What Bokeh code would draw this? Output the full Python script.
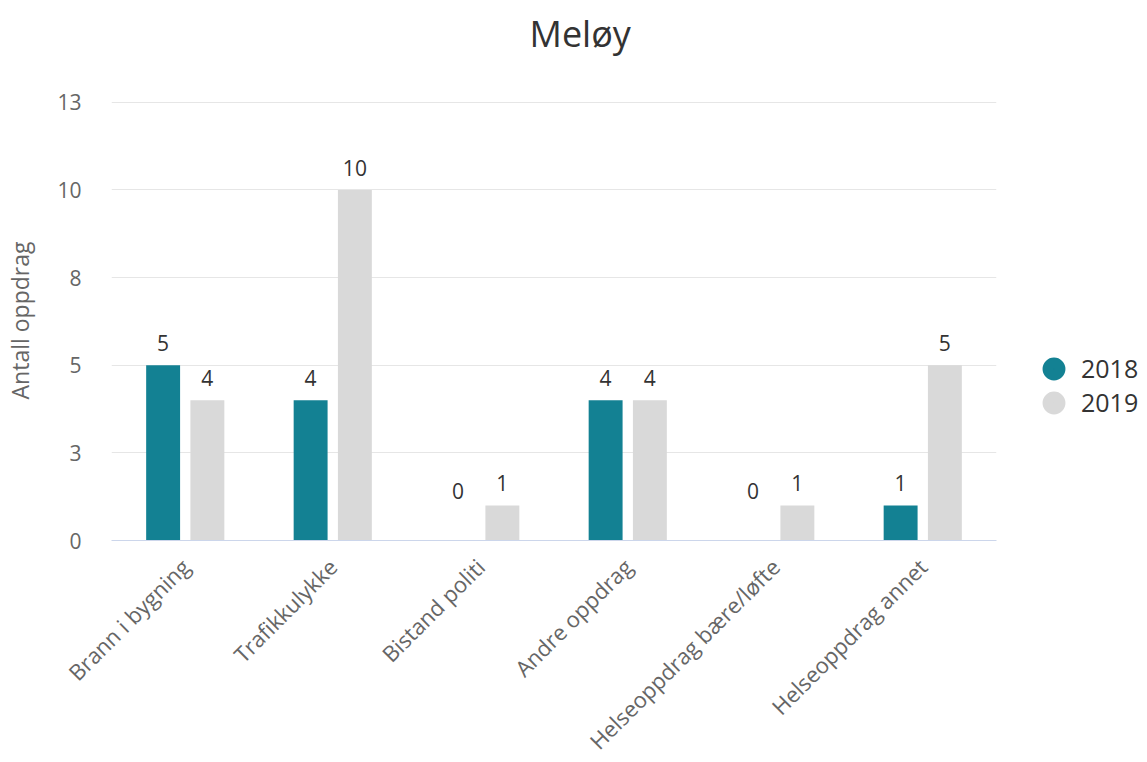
import math
from bokeh.plotting import figure
from bokeh.models import ColumnDataSource, FactorRange, Range1d, FixedTicker, Legend, LegendItem, Title
from bokeh.transform import dodge
from bokeh.core.properties import value
from bokeh.embed import file_html
from bokeh.resources import INLINE

# ---- data ----
title_text = "Meløy"
categories = ["Brann i bygning", "Trafikkulykke", "Bistand politi",
              "Andre oppdrag", "Helseoppdrag bære/løfte", "Helseoppdrag annet"]
values_2018 = [5, 4, 0, 4, 0, 1]
values_2019 = [4, 10, 1, 4, 1, 5]
series_names = ["2018", "2019"]
y_ticks = [0.0, 2.5, 5.0, 7.5, 10.0, 12.5]
y_tick_labels = ["0", "3", "5", "8", "10", "13"]
y_axis_title = "Antall oppdrag"

# ---- style ----
TEAL = "#138193"
GRAY = "#d9d9d9"
FONT = "Open Sans"

def lab_offsets(vals):
    return [-22 if v > 0 else -50 for v in vals]

src = ColumnDataSource(dict(
    cat=categories,
    v18=values_2018, v19=values_2019,
    l18=[str(v) for v in values_2018], l19=[str(v) for v in values_2019],
    o18=lab_offsets(values_2018), o19=lab_offsets(values_2019),
))

p = figure(x_range=FactorRange(*categories), y_range=Range1d(0, 12.55),
           frame_width=885, frame_height=440,
           min_border_left=111, min_border_right=135,
           min_border_top=100, min_border_bottom=208,
           output_backend="svg", toolbar_location=None, title=None)

p.outline_line_color = None
p.background_fill_color = "white"
p.border_fill_color = "white"

# bars
off = 0.15
bw = 0.23
p.vbar(x=dodge("cat", -off, range=p.x_range), top="v18", width=bw, source=src,
       fill_color=TEAL, line_color=None)
p.vbar(x=dodge("cat", off, range=p.x_range), top="v19", width=bw, source=src,
       fill_color=GRAY, line_color=None)

# data labels
for key, lab, o, dx in [("v18", "l18", "o18", -off), ("v19", "l19", "o19", off)]:
    p.text(x=dodge("cat", dx, range=p.x_range), y=key, text=lab, y_offset=o, source=src,
           text_align="center", text_baseline="alphabetic",
           text_font=value(FONT), text_font_size="21px", text_color="#333333")

# legend proxies (circle markers, not drawn in the plot area: y is NaN)
proxy = ColumnDataSource(dict(x=[categories[0]], y=[float("nan")]))
r18 = p.scatter(x="x", y="y", source=proxy, marker="circle", size=1,
                fill_color=TEAL, line_color=TEAL, line_width=10.5)
r19 = p.scatter(x="x", y="y", source=proxy, marker="circle", size=1,
                fill_color=GRAY, line_color=GRAY, line_width=10.5)
legend = Legend(items=[LegendItem(label=series_names[0], renderers=[r18]),
                       LegendItem(label=series_names[1], renderers=[r19])],
                location=(42, 121), glyph_width=31, glyph_height=31, spacing=0,
                padding=0, margin=0, border_line_color=None, background_fill_alpha=0,
                label_text_font=FONT, label_text_font_size="25px",
                label_text_color="#333333", label_standoff=12)
p.add_layout(legend, "right")

# blank spacer next to the frame (first in "above"), title text above it
spacer = Title(text=" ", text_font_size="10px", standoff=28, text_color="white")
title = Title(text=title_text, text_font=FONT, text_font_size="36px",
              text_font_style="normal", text_color="#333333",
              align="left", offset=418, vertical_align="top", standoff=0)
p.add_layout(spacer, "above")
p.add_layout(title, "above")

# y axis
p.yaxis.ticker = FixedTicker(ticks=y_ticks)
p.ygrid.ticker = FixedTicker(ticks=y_ticks)
p.yaxis.major_label_overrides = dict(zip(y_ticks, y_tick_labels))
p.yaxis.axis_line_color = None
p.yaxis.major_tick_line_color = None
p.yaxis.minor_tick_line_color = None
p.yaxis.major_label_text_font = FONT
p.yaxis.major_label_text_font_size = "21px"
p.yaxis.major_label_text_color = "#666666"
p.yaxis.major_label_standoff = 24
p.yaxis.axis_label = y_axis_title
p.yaxis.axis_label_text_font = FONT
p.yaxis.axis_label_text_font_size = "23px"
p.yaxis.axis_label_text_font_style = "normal"
p.yaxis.axis_label_text_color = "#666666"
p.yaxis.axis_label_standoff = 18

p.ygrid.grid_line_color = "#e6e6e6"
p.xgrid.grid_line_color = None

# x axis
p.xaxis.axis_line_color = "#ccd6eb"
p.xaxis.major_tick_line_color = None
p.xaxis.minor_tick_line_color = None
p.xaxis.major_label_orientation = math.pi / 4
p.xaxis.major_label_text_font = FONT
p.xaxis.major_label_text_font_size = "22px"
p.xaxis.major_label_text_color = "#666666"
p.xaxis.major_label_standoff = 16

open("out.html", "w").write(file_html(p, INLINE))
